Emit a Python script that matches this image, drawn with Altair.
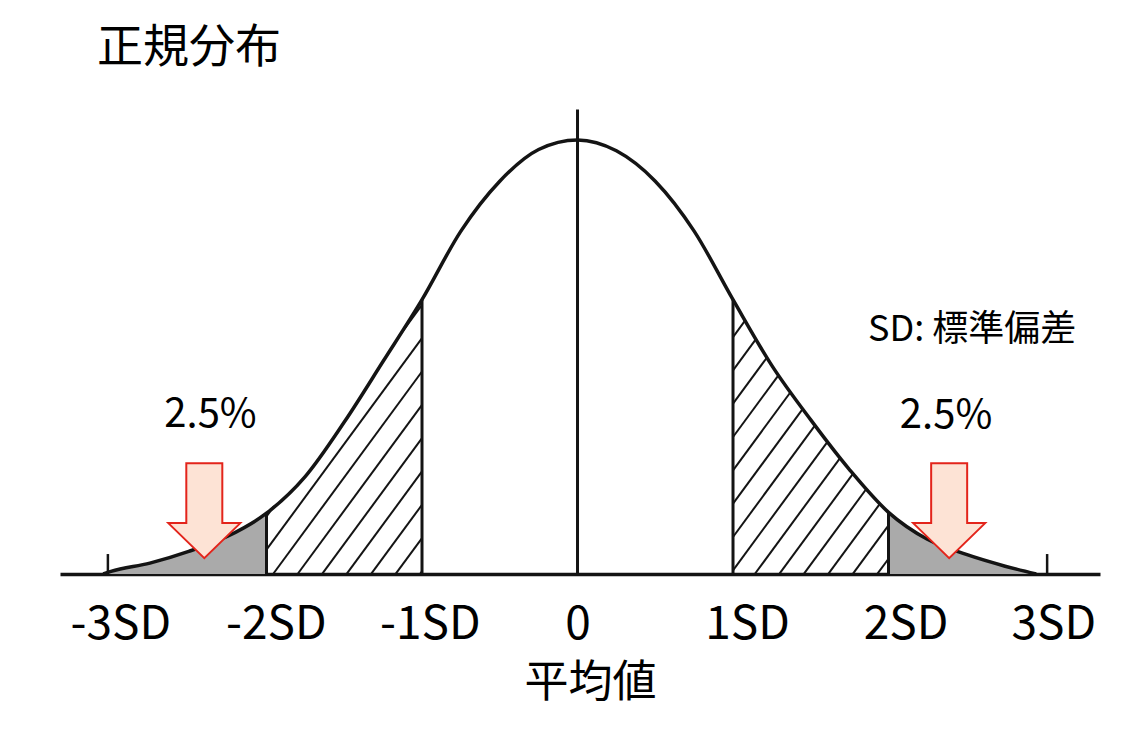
import numpy as np
import pandas as pd
import altair as alt

# ---------------- data ----------------
curve_x = [-3.05, -3.0, -2.75, -2.5, -2.25, -2.0, -1.75, -1.5, -1.25, -1.0, -0.75, -0.5, -0.25,
           0.0, 0.25, 0.5, 0.75, 1.0, 1.25, 1.5, 1.75, 2.0, 2.25, 2.5, 2.75, 2.95]
curve_h = [0.0, 0.006, 0.025, 0.052, 0.087, 0.140, 0.225, 0.350, 0.490, 0.632, 0.790, 0.905, 0.978,
           1.0, 0.975, 0.905, 0.790, 0.632, 0.480, 0.355, 0.240, 0.142, 0.080, 0.045, 0.018, 0.0]

bound_x = [-2.0, -1.0, 1.0, 2.0]          # vertical lines closing the shaded zones
center_x = [0.0]                          # mean line
center_top = [1.07]
tail_tick_x = [-3.02, 3.02]
tail_tick_h = [0.046, 0.046]

tick_labels = ["-3SD", "-2SD", "-1SD", "0", "1SD", "2SD", "3SD"]
tick_pos = [-2.94, -1.94, -0.95, 0.0, 1.09, 2.11, 3.06]

arrow_x = [-2.40, 2.39]
arrow_y = [0.146, 0.146]

note_text = ["2.5%", "2.5%"]
note_x = [-2.36, 2.37]
note_y = [0.339, 0.336]

legend_text = ["SD: 標準偏差"]
legend_x = [1.868]
legend_y = [0.537]

# ---------------- layout / style ----------------
FONT = "Noto Sans CJK JP"
W, H = 1040, 474
XMIN, XMAX = -3.328, 3.360
YMAX = 1.092
INK = "#141414"
HATCH_SLOPE_PX = 1.36
HATCH_SPACING_PX = 24.5
HATCH_PHASE = {"left": -1.80, "right": 1.14}

cx = np.array(curve_x)
ch = np.array(curve_h)

curve_df = pd.DataFrame({"x": curve_x, "h": curve_h})
left_tail_df = curve_df[curve_df["x"] <= -2.0]
right_tail_df = curve_df[curve_df["x"] >= 2.0]

bounds_df = pd.DataFrame({"x": bound_x, "y0": 0.0, "y1": np.interp(bound_x, cx, ch)})
center_df = pd.DataFrame({"x": center_x, "y0": 0.0, "y1": center_top})
tails_tick_df = pd.DataFrame({"x": tail_tick_x, "y0": 0.0, "y1": tail_tick_h})

# hatch segments: diagonal lines clipped to the 1SD-2SD zones under the curve
px_x = W / (XMAX - XMIN)
px_y = H / YMAX
m = HATCH_SLOPE_PX * px_x / px_y
spacing = HATCH_SPACING_PX / px_x
segs = []
for side, (L, R) in {"left": (-2.0, -1.0), "right": (1.0, 2.0)}.items():
    xx = np.linspace(L, R, 2001)
    cur = np.interp(xx, cx, ch)
    for k in range(-40, 41):
        b = HATCH_PHASE[side] + k * spacing
        line = m * (xx - b)
        inside = (line >= 0) & (line <= cur)
        idx = np.flatnonzero(inside)
        if idx.size < 2:
            continue
        runs = np.split(idx, np.flatnonzero(np.diff(idx) > 1) + 1)
        for r in runs:
            if r.size < 2:
                continue
            segs.append({"x": xx[r[0]], "y": line[r[0]], "x2": xx[r[-1]], "y2": line[r[-1]]})
hatch_df = pd.DataFrame(segs)

arrow_df = pd.DataFrame({"x": arrow_x, "y": arrow_y})
note_df = pd.DataFrame({"t": note_text, "x": note_x, "y": note_y})
legend_df = pd.DataFrame({"t": legend_text, "x": legend_x, "y": legend_y})

# label expression from the tick arrays
mids = [(tick_pos[i] + tick_pos[i + 1]) / 2 for i in range(len(tick_pos) - 1)]
expr = f"'{tick_labels[-1]}'"
for i in range(len(mids) - 1, -1, -1):
    expr = f"datum.value < {mids[i]:.3f} ? '{tick_labels[i]}' : ({expr})"

xscale = alt.Scale(domain=[XMIN, XMAX], nice=False, zero=False)
yscale = alt.Scale(domain=[0, YMAX], nice=False, zero=False)
xaxis = alt.Axis(values=tick_pos, labelExpr=expr, ticks=False, tickSize=0, grid=False,
                 domainColor=INK, domainWidth=3.5, labelFont=FONT, labelFontSize=46,
                 labelColor="#000", labelBaseline="alphabetic", labelPadding=64,
                 labelOverlap=False, labelFlush=False, labelBound=False,
                 title="平均値", titleFont=FONT, titleFontSize=44, titleFontWeight="normal",
                 titleColor="#000", titlePadding=14, titleX=530, titleAnchor="middle")


def X(field="x"):
    return alt.X(f"{field}:Q", scale=xscale, axis=xaxis)


def Y(field):
    return alt.Y(f"{field}:Q", scale=yscale, axis=None, stack=None)


grey_l = alt.Chart(left_tail_df).mark_area(interpolate="monotone", color="#aaaaaa").encode(
    x=X(), y=Y("h"))
grey_r = alt.Chart(right_tail_df).mark_area(interpolate="monotone", color="#aaaaaa").encode(
    x=X(), y=Y("h"))

hatch = alt.Chart(hatch_df).mark_rule(color=INK, strokeWidth=2).encode(
    x=X(), y=Y("y"), x2="x2:Q", y2="y2:Q")

bounds = alt.Chart(bounds_df).mark_rule(color=INK, strokeWidth=3).encode(
    x=X(), y=Y("y0"), y2="y1:Q")

center = alt.Chart(center_df).mark_rule(color=INK, strokeWidth=3).encode(
    x=X(), y=Y("y0"), y2="y1:Q")

tail_ticks = alt.Chart(tails_tick_df).mark_rule(color=INK, strokeWidth=2.5).encode(
    x=X(), y=Y("y0"), y2="y1:Q")

curve = alt.Chart(curve_df).mark_line(interpolate="monotone", color=INK, strokeWidth=3.5).encode(
    x=X(), y=Y("h"))

ARROW = "M-0.379,-1L0.379,-1L0.379,0.263L0.758,0.263L0,1L-0.758,0.263L-0.379,0.263Z"
arrows = alt.Chart(arrow_df).mark_point(shape=ARROW, size=9025, filled=True, fill="#fde3d5",
                                        stroke="#e3241b", strokeWidth=2, opacity=1,
                                        fillOpacity=1, strokeOpacity=1).encode(
    x=X(), y=Y("y"))

notes = alt.Chart(note_df).mark_text(font=FONT, fontSize=40, color="#000", align="center",
                                     baseline="alphabetic").encode(x=X(), y=Y("y"), text="t:N")

legend = alt.Chart(legend_df).mark_text(font=FONT, fontSize=36, color="#000", align="left",
                                        baseline="alphabetic").encode(x=X(), y=Y("y"), text="t:N")

chart = alt.layer(grey_l, grey_r, hatch, bounds, center, tail_ticks, curve, arrows, notes,
                  legend).properties(
    width=W, height=H,
    autosize=alt.AutoSizeParams(type="none"),
    padding={"left": 52, "top": 92, "right": 40, "bottom": 154},
    title=alt.TitleParams("正規分布", anchor="start", frame="group", dx=37, offset=-8,
                          baseline="alphabetic", font=FONT, fontSize=46, fontWeight="normal",
                          color="#000"),
).configure(background="white", view=alt.ViewConfig(stroke="transparent", strokeWidth=0))

chart.save("out.html", embed_options={"renderer": "svg", "actions": False})
